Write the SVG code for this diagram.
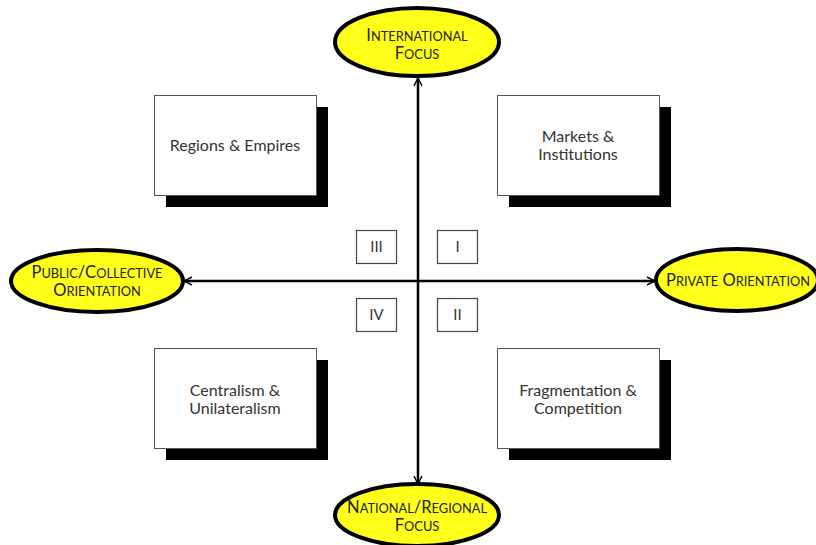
<svg xmlns="http://www.w3.org/2000/svg" width="816" height="545" viewBox="0 0 816 545">
<style>
.ell{fill:#ffff1a;stroke:#000;stroke-width:4}
.big{font-family:Lato,"Open Sans",sans-serif;font-size:16.5px;fill:#222;text-anchor:middle}
.sc{font-size:12.8px}
.box{fill:#fff;stroke:#555;stroke-width:1}
.sh{fill:#000}
.bt{font-family:Lato,"Open Sans",sans-serif;font-size:16px;fill:#333;text-anchor:middle}
.q{fill:#fff;stroke:#444;stroke-width:1.2}
.qt{font-family:Lato,"Open Sans",sans-serif;font-size:15px;fill:#333;text-anchor:middle}
.ax{stroke:#000;stroke-width:2.5;fill:none}
</style>
<defs>
<marker id="ah" viewBox="0 0 10 10" refX="9" refY="5" markerWidth="4" markerHeight="4" orient="auto-start-reverse" markerUnits="strokeWidth">
<path d="M1,1 L9,5 L1,9" fill="none" stroke="#000" stroke-width="1.5"/>
</marker>
</defs>
<rect width="816" height="545" fill="#fff"/>
<g id="connectors">
<line class="ax" x1="418" y1="78" x2="418" y2="484" marker-start="url(#ah)" marker-end="url(#ah)"/>
<line class="ax" x1="184" y1="281" x2="655" y2="281" marker-start="url(#ah)" marker-end="url(#ah)"/>
</g>
<g id="node-international">
<ellipse class="ell" cx="417" cy="42" rx="82" ry="34"/>
<text class="big" x="417" y="41">I<tspan class="sc">NTERNATIONAL</tspan></text>
<text class="big" x="417" y="59">F<tspan class="sc">OCUS</tspan></text>
</g>
<g id="node-public">
<ellipse class="ell" cx="97" cy="281" rx="86" ry="31"/>
<text class="big" x="97" y="278">P<tspan class="sc">UBLIC</tspan>/C<tspan class="sc">OLLECTIVE</tspan></text>
<text class="big" x="97" y="296">O<tspan class="sc">RIENTATION</tspan></text>
</g>
<g id="node-private">
<ellipse class="ell" cx="737" cy="280" rx="81" ry="31"/>
<text class="big" x="738" y="286">P<tspan class="sc">RIVATE</tspan> O<tspan class="sc">RIENTATION</tspan></text>
</g>
<g id="node-national">
<ellipse class="ell" cx="417" cy="515" rx="82" ry="31"/>
<text class="big" x="417" y="513">N<tspan class="sc">ATIONAL</tspan>/R<tspan class="sc">EGIONAL</tspan></text>
<text class="big" x="417" y="531">F<tspan class="sc">OCUS</tspan></text>
</g>
<g id="node-regions">
<rect class="sh" x="166" y="107" width="162" height="100"/>
<rect class="box" x="154.5" y="95.5" width="162" height="100"/>
<text class="bt" x="235" y="151">Regions &amp; Empires</text>
</g>
<g id="node-markets">
<rect class="sh" x="509" y="107" width="162" height="100"/>
<rect class="box" x="497.5" y="95.5" width="162" height="100"/>
<text class="bt" x="578" y="142">Markets &amp;</text>
<text class="bt" x="578" y="160">Institutions</text>
</g>
<g id="node-centralism">
<rect class="sh" x="166" y="360" width="162" height="100"/>
<rect class="box" x="154.5" y="348.5" width="162" height="100"/>
<text class="bt" x="235" y="396">Centralism &amp;</text>
<text class="bt" x="235" y="414">Unilateralism</text>
</g>
<g id="node-fragmentation">
<rect class="sh" x="509" y="360" width="162" height="100"/>
<rect class="box" x="497.5" y="348.5" width="162" height="100"/>
<text class="bt" x="578" y="396">Fragmentation &amp;</text>
<text class="bt" x="578" y="414">Competition</text>
</g>
<g id="node-q3">
<rect class="q" x="356.5" y="230.5" width="40" height="33"/>
<text class="qt" x="376.5" y="252">III</text>
</g>
<g id="node-q1">
<rect class="q" x="437.5" y="230.5" width="40" height="33"/>
<text class="qt" x="457.5" y="252">I</text>
</g>
<g id="node-q4">
<rect class="q" x="356.5" y="298.5" width="40" height="33"/>
<text class="qt" x="376.5" y="320">IV</text>
</g>
<g id="node-q2">
<rect class="q" x="437.5" y="298.5" width="40" height="33"/>
<text class="qt" x="457.5" y="320">II</text>
</g>
</svg>
